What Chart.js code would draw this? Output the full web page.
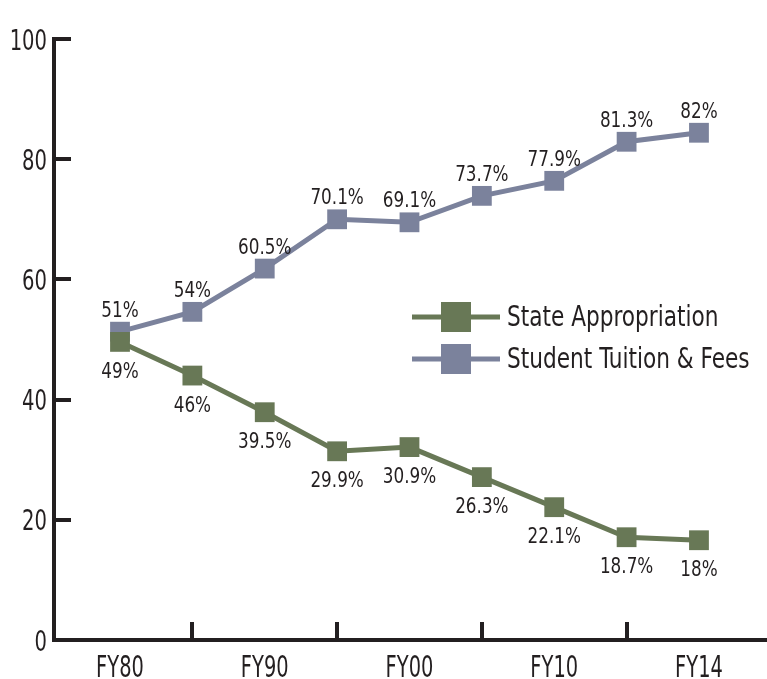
<!DOCTYPE html>
<html>
<head>
<meta charset="utf-8">
<script src="https://cdn.jsdelivr.net/npm/chart.js@4.4.1/dist/chart.umd.min.js"></script>
<style>
html,body{margin:0;padding:0;background:#fff;}
canvas{display:block;}
</style>
</head>
<body>
<canvas id="c" width="767" height="679"></canvas>
<script>
// ---- data ----
const xTickLabels = ['FY80', '', 'FY90', '', 'FY00', '', 'FY10', '', 'FY14'];
const stateAppropriation = [49.6, 44.0, 37.9, 31.4, 32.1, 27.1, 22.1, 17.1, 16.6];
const studentTuition = [51.3, 54.6, 61.8, 70.0, 69.5, 73.9, 76.4, 82.9, 84.4];
const stateLabels = ['49%', '46%', '39.5%', '29.9%', '30.9%', '26.3%', '22.1%', '18.7%', '18%'];
const studentLabels = ['51%', '54%', '60.5%', '70.1%', '69.1%', '73.7%', '77.9%', '81.3%', '82%'];
const seriesNames = ['State Appropriation', 'Student Tuition & Fees'];
const yTicks = [0, 20, 40, 60, 80, 100];

const GREEN = '#687856';
const BLUE = '#7b829c';
const INK = '#231f20';
const FONT = "'DejaVu Sans Condensed', 'Liberation Sans Narrow', sans-serif";

const toPts = arr => arr.map((v, i) => ({x: i, y: v}));

// draw condensed text: (x, y) is anchor, y is vertical centre of cap height
function condText(ctx, text, x, y, size, sx, align) {
  ctx.save();
  ctx.font = size + 'px ' + FONT;
  ctx.fillStyle = INK;
  ctx.textAlign = align;
  ctx.textBaseline = 'alphabetic';
  ctx.translate(x, y + size * 0.729 / 2);
  ctx.scale(sx, 1);
  ctx.fillText(text, 0, 0);
  ctx.restore();
}

const textPlugin = {
  id: 'condensedText',
  afterDraw(chart) {
    const ctx = chart.ctx;
    const xs = chart.scales.x, ys = chart.scales.y;
    // y tick labels
    ys.ticks.forEach(t => {
      condText(ctx, String(t.value), 47, ys.getPixelForValue(t.value), 29, 0.75, 'right');
    });
    // x tick labels
    xs.ticks.forEach(t => {
      const lab = xTickLabels[t.value];
      if (lab) condText(ctx, lab, xs.getPixelForValue(t.value), 666, 30, 0.72, 'center');
    });
    // point labels
    chart.data.datasets.forEach((ds, di) => {
      const meta = chart.getDatasetMeta(di);
      meta.data.forEach((el, i) => {
        const dy = ds.labelBelow ? 28 : -23;
        condText(ctx, ds.pointLabels[i], el.x, el.y + dy, 22, 0.85, 'center');
      });
    });
    // legend
    const x0 = 412, x1 = 500, rows = [317, 359];
    chart.data.datasets.forEach((ds, i) => {
      const y = rows[i];
      ctx.save();
      ctx.strokeStyle = ds.borderColor;
      ctx.lineWidth = 5;
      ctx.beginPath();
      ctx.moveTo(x0, y);
      ctx.lineTo(x1, y);
      ctx.stroke();
      ctx.fillStyle = ds.borderColor;
      ctx.fillRect(441, y - 15, 30, 30);
      ctx.restore();
      condText(ctx, ds.label, 507, y - 2, 29, 0.83, 'left');
    });
  }
};

new Chart(document.getElementById('c'), {
  type: 'line',
  data: {
    datasets: [
      {
        label: seriesNames[0],
        data: toPts(stateAppropriation),
        pointLabels: stateLabels,
        labelBelow: true,
        borderColor: GREEN,
        backgroundColor: GREEN,
        borderWidth: 5,
        pointStyle: 'rect',
        pointRadius: 14,
        pointBorderWidth: 0,
        pointBackgroundColor: GREEN,
        tension: 0,
        clip: false
      },
      {
        label: seriesNames[1],
        data: toPts(studentTuition),
        pointLabels: studentLabels,
        labelBelow: false,
        borderColor: BLUE,
        backgroundColor: BLUE,
        borderWidth: 5,
        pointStyle: 'rect',
        pointRadius: 14,
        pointBorderWidth: 0,
        pointBackgroundColor: BLUE,
        tension: 0,
        clip: false
      }
    ]
  },
  options: {
    responsive: false,
    animation: false,
    devicePixelRatio: 1,
    layout: {autoPadding: false, padding: {top: 39, right: 0, left: 0, bottom: 0}},
    plugins: {legend: {display: false}, tooltip: {enabled: false}},
    scales: {
      x: {
        type: 'linear',
        min: -0.912,
        max: 8.94,
        afterBuildTicks: s => { s.ticks = xTickLabels.map((_, i) => ({value: i})); },
        afterFit: s => { s.height = 39; s.paddingLeft = 0; s.paddingRight = 0; },
        border: {display: true, color: INK, width: 4},
        grid: {
          drawOnChartArea: false,
          drawTicks: true,
          tickLength: -18,
          lineWidth: 4,
          color: c => (c.index % 2 === 1 ? INK : 'rgba(0,0,0,0)')
        },
        ticks: {display: false, autoSkip: false, maxRotation: 0, padding: 0}
      },
      y: {
        min: 0,
        max: 100,
        afterBuildTicks: s => { s.ticks = yTicks.map(v => ({value: v})); },
        afterFit: s => { s.width = 54; s.paddingTop = 0; s.paddingBottom = 0; },
        border: {display: true, color: INK, width: 4},
        grid: {
          drawOnChartArea: false,
          drawTicks: true,
          tickLength: -17,
          lineWidth: 4,
          color: INK
        },
        ticks: {display: false, padding: 0}
      }
    }
  },
  plugins: [textPlugin]
});
</script>
</body>
</html>
